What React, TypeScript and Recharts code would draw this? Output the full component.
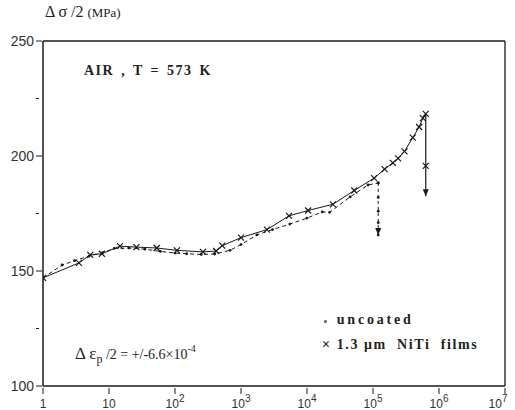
import React from "react";
import {
  ReferenceLine,
  Scatter,
  ScatterChart,
  XAxis,
  YAxis,
} from "recharts";

// cycles to failure (N) vs stress amplitude (MPa)
const coatedCycles = [
  1, 3.5, 5.2, 7.8, 14.7, 26, 53, 107, 265, 420, 520, 1000, 2470, 5340, 10400,
  24700, 52000, 104000, 150000, 200000, 240000, 300000, 400000, 500000, 570000,
  630000,
];
const coatedStress = [
  147, 153.5, 157, 157.5, 160.8, 160.4, 160, 159, 158.3, 158.7, 161, 164.5, 168,
  174, 176.3, 179, 185, 190.4, 194.3, 197, 199, 202, 208, 212.6, 216.5, 218.3,
];

const uncoatedCycles = [
  1, 1.95, 3, 5, 8, 12, 20, 35, 60, 100, 150, 250, 400, 680, 1000, 1740, 3000,
  5500, 10000, 17000, 22000, 45000, 84000, 120000,
];
const uncoatedStress = [
  147, 152.6, 154.5, 156.5, 158, 159.8, 160, 159.5, 158.5, 157.8, 157.5, 157.2,
  157.4, 159, 161.5, 165.7, 168, 170.4, 173, 175.7, 175.5, 182.2, 187.4, 188.3,
];

// failure drops (vertical arrows)
const coatedFailCycles = [630000, 630000, 630000];
const coatedFailStress = [218.3, 195.7, 182.5];
const uncoatedFailCycles = [120000, 120000, 120000, 120000, 120000];
const uncoatedFailStress = [188.3, 182, 176, 171, 165.6];

const xTicks = [1, 10, 100, 1000, 10000, 100000, 1000000, 10000000];
const yTicks = [100, 125, 150, 175, 200, 225, 250];

const toPoints = (n: number[], s: number[]) =>
  n.map((v, i) => ({ n: v, s: s[i] }));

const coated = toPoints(coatedCycles, coatedStress);
const uncoated = toPoints(uncoatedCycles, uncoatedStress);
const coatedFail = toPoints(coatedFailCycles, coatedFailStress);
const uncoatedFail = toPoints(uncoatedFailCycles, uncoatedFailStress);
const arrowTips = [coatedFail[coatedFail.length - 1], uncoatedFail[uncoatedFail.length - 1]];

const INK = "#1a1a1a";

const Cross = (props: any) => {
  const { cx, cy } = props;
  const r = 3;
  return (
    <g stroke={INK} strokeWidth={1.2}>
      <line x1={cx - r} y1={cy - r} x2={cx + r} y2={cy + r} />
      <line x1={cx - r} y1={cy + r} x2={cx + r} y2={cy - r} />
    </g>
  );
};

const Dot = (props: any) => {
  const { cx, cy } = props;
  return <circle cx={cx} cy={cy} r={1.4} fill={INK} />;
};

const Nothing = () => <g />;

const Arrow = (props: any) => {
  const { cx, cy } = props;
  return <path d={`M${cx - 3},${cy - 7} L${cx + 3},${cy - 7} L${cx},${cy} Z`} fill={INK} />;
};

const supers: Record<number, string> = { 100: "2", 1000: "3", 10000: "4", 100000: "5", 1000000: "6", 10000000: "7" };

const XTick = (props: any) => {
  const { x, y, payload } = props;
  const v = payload.value;
  const tx = v === 10000000 ? x - 7 : x;
  return (
    <g>
      <line x1={x} y1={y} x2={x} y2={y - 6} stroke={INK} />
      <text x={tx} y={y + 14} textAnchor="middle" fontSize={12} fill="#333" fontFamily="Liberation Sans">
        {v === 1 ? "1" : "10"}
        {supers[v] && (
          <tspan dy={-6} fontSize={10}>
            {supers[v]}
          </tspan>
        )}
      </text>
    </g>
  );
};

const YTick = (props: any) => {
  const { x, y, payload } = props;
  const v = payload.value;
  const major = v % 50 === 0;
  return (
    <g>
      <line x1={x + 1} y1={y} x2={x + (major ? 7 : 4)} y2={y} stroke={INK} />
      {major && (
        <text x={x - 1} y={y + 5} textAnchor="end" fontSize={14} fill="#333" fontFamily="Liberation Sans">
          {v}
        </text>
      )}
    </g>
  );
};

const serif = "'Liberation Serif', 'DejaVu Serif', serif";

export default function App() {
  return (
    <div style={{ position: "absolute", left: 0, top: 0, width: 515, height: 410, background: "#fff" }}>
      <ScatterChart width={515} height={410} margin={{ top: 41, right: 10, bottom: 0, left: 0 }}>
        <XAxis
          type="number"
          dataKey="n"
          scale="log"
          domain={[1, 10000000]}
          ticks={xTicks}
          tick={<XTick />}
          tickLine={false}
          axisLine={{ stroke: INK, strokeWidth: 1.3 }}
          height={24}
          interval={0}
          allowDataOverflow
        />
        <YAxis
          type="number"
          dataKey="s"
          domain={[100, 250]}
          ticks={yTicks}
          tick={<YTick />}
          tickLine={false}
          axisLine={{ stroke: INK, strokeWidth: 1.5 }}
          width={43}
          interval={0}
        />
        <ReferenceLine y={250} stroke={INK} strokeWidth={1.3} />
        <ReferenceLine x={10000000} stroke={INK} strokeWidth={1.3} />
        <Scatter
          data={uncoated}
          line={{ stroke: INK, strokeWidth: 1, strokeDasharray: "4 3" }}
          shape={<Dot />}
          isAnimationActive={false}
        />
        <Scatter
          data={coated}
          line={{ stroke: INK, strokeWidth: 1 }}
          shape={<Cross />}
          isAnimationActive={false}
        />
        <Scatter
          data={uncoatedFail}
          line={{ stroke: INK, strokeWidth: 1, strokeDasharray: "3 3" }}
          shape={<Dot />}
          isAnimationActive={false}
        />
        <Scatter
          data={coatedFail}
          line={{ stroke: INK, strokeWidth: 1.2 }}
          shape={(p: any) => (p.payload.s === coatedFailStress[1] ? <Cross {...p} /> : <Nothing />)}
          isAnimationActive={false}
        />
        <Scatter data={arrowTips} shape={<Arrow />} isAnimationActive={false} />
      </ScatterChart>

      <div style={{ position: "absolute", left: 45, top: 3, fontFamily: serif, fontSize: 16, color: "#222", whiteSpace: "nowrap" }}>
        Δ σ /2 <span style={{ fontSize: 13 }}>(MPa)</span>
      </div>
      <div style={{ position: "absolute", left: 84, top: 63, fontFamily: serif, fontSize: 14, fontWeight: "bold", color: "#222", letterSpacing: 1.5, wordSpacing: 2, whiteSpace: "nowrap" }}>
        AIR , T = 573 K
      </div>
      <div style={{ position: "absolute", left: 323, top: 312, fontFamily: serif, fontSize: 14, fontWeight: "bold", color: "#222", letterSpacing: 2.8, whiteSpace: "nowrap" }}>
        <span style={{ fontSize: 9 }}>∘</span> uncoated
      </div>
      <div style={{ position: "absolute", left: 322, top: 337, fontFamily: serif, fontSize: 14, fontWeight: "bold", color: "#222", letterSpacing: 1.6, whiteSpace: "nowrap" }}>
        × 1.3 μm&nbsp; NiTi&nbsp; films
      </div>
      <div style={{ position: "absolute", left: 75, top: 343, fontFamily: serif, fontSize: 17, color: "#222", whiteSpace: "nowrap" }}>
        Δ ε<sub style={{ fontSize: 12 }}>p</sub>
        <span style={{ fontSize: 14 }}> /2 = +/-6.6×10</span>
        <sup style={{ fontSize: 10 }}>-4</sup>
      </div>
    </div>
  );
}
